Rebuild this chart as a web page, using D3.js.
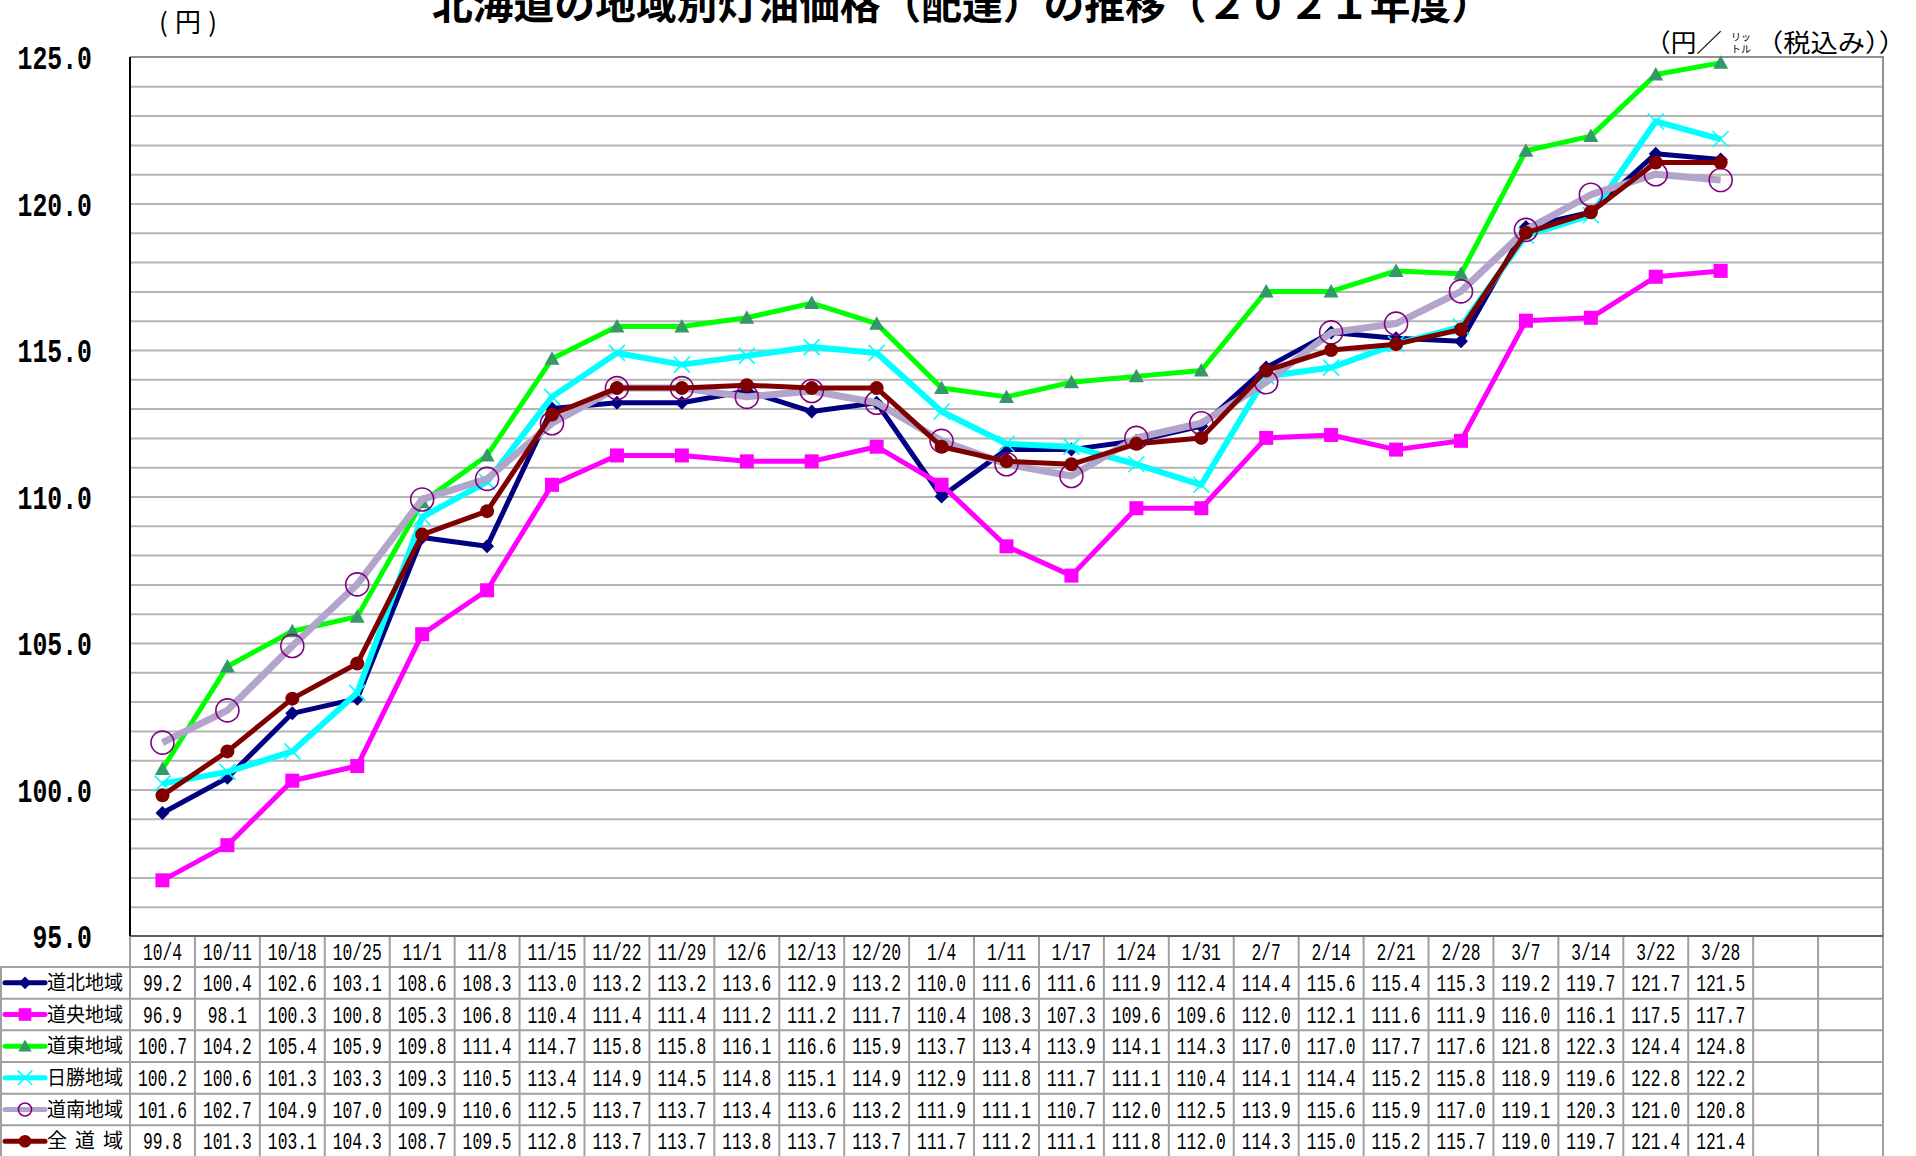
<!DOCTYPE html>
<html>
<head>
<meta charset="utf-8">
<script src="https://cdn.jsdelivr.net/npm/d3@7"></script>
<style>
  html, body { margin: 0; padding: 0; background: #fff; overflow: hidden; }
  svg { display: block; }
</style>
</head>
<body>
<div id="chart"></div>
<script>
// 週ごとの調査日
const dates = ["10/4", "10/11", "10/18", "10/25", "11/1", "11/8", "11/15", "11/22", "11/29",
  "12/6", "12/13", "12/20", "1/4", "1/11", "1/17", "1/24", "1/31", "2/7", "2/14", "2/21",
  "2/28", "3/7", "3/14", "3/22", "3/28"];
const blankCols = 2;   // 表の右端の空欄
const yLabels = [95, 100, 105, 110, 115, 120, 125];

const dohoku = [99.2, 100.4, 102.6, 103.1, 108.6, 108.3, 113.0, 113.2, 113.2, 113.6, 112.9, 113.2,
  110.0, 111.6, 111.6, 111.9, 112.4, 114.4, 115.6, 115.4, 115.3, 119.2, 119.7, 121.7, 121.5];
const doou = [96.9, 98.1, 100.3, 100.8, 105.3, 106.8, 110.4, 111.4, 111.4, 111.2, 111.2, 111.7,
  110.4, 108.3, 107.3, 109.6, 109.6, 112.0, 112.1, 111.6, 111.9, 116.0, 116.1, 117.5, 117.7];
const doto = [100.7, 104.2, 105.4, 105.9, 109.8, 111.4, 114.7, 115.8, 115.8, 116.1, 116.6, 115.9,
  113.7, 113.4, 113.9, 114.1, 114.3, 117.0, 117.0, 117.7, 117.6, 121.8, 122.3, 124.4, 124.8];
const nissho = [100.2, 100.6, 101.3, 103.3, 109.3, 110.5, 113.4, 114.9, 114.5, 114.8, 115.1, 114.9,
  112.9, 111.8, 111.7, 111.1, 110.4, 114.1, 114.4, 115.2, 115.8, 118.9, 119.6, 122.8, 122.2];
const donan = [101.6, 102.7, 104.9, 107.0, 109.9, 110.6, 112.5, 113.7, 113.7, 113.4, 113.6, 113.2,
  111.9, 111.1, 110.7, 112.0, 112.5, 113.9, 115.6, 115.9, 117.0, 119.1, 120.3, 121.0, 120.8];
const zendo = [99.8, 101.3, 103.1, 104.3, 108.7, 109.5, 112.8, 113.7, 113.7, 113.8, 113.7, 113.7,
  111.7, 111.2, 111.1, 111.8, 112.0, 114.3, 115.0, 115.2, 115.7, 119.0, 119.7, 121.4, 121.4];
const seriesNames = ["道北地域", "道央地域", "道東地域", "日勝地域", "道南地域", "全 道 域"];

// 系列の見た目
const styles = [
  { values: dohoku, line: "#000080", lw: 5, marker: "diamond", fill: "#000080" },
  { values: doou,   line: "#ff00ff", lw: 5, marker: "square",  fill: "#ff00ff" },
  { values: doto,   line: "#00ff00", lw: 5, marker: "triangle", fill: "#339966" },
  { values: nissho, line: "#00ffff", lw: 6, marker: "x",       fill: "#00ffff" },
  { values: donan,  line: "#b2a4cb", lw: 7, marker: "ring",    fill: "#800080" },
  { values: zendo,  line: "#800000", lw: 5, marker: "dot",     fill: "#800000" }
];

const W = 1916, H = 1156;
const plot = { left: 130, right: 1883, top: 57, bottom: 936 };
const headerH = 31, rowH = 31.67;
const gridColor = "#b4b4b4", tableColor = "#a0a0a0";

const svg = d3.select("#chart").append("svg")
  .attr("width", W)
  .attr("height", H);

const x = d3.scaleBand()
  .domain(d3.range(dates.length + blankCols))
  .range([plot.left, plot.right]);

const y = d3.scaleLinear()
  .domain([95, 125])
  .range([plot.bottom, plot.top]);

const cx = i => x(i) + x.bandwidth() / 2;

// 目盛線
svg.append("g")
  .attr("transform", `translate(${plot.left},0)`)
  .call(d3.axisLeft(y).tickValues(d3.range(96, 125)).tickSize(-(plot.right - plot.left)).tickFormat(""))
  .call(g => g.select(".domain").remove())
  .call(g => g.selectAll("line").attr("stroke", gridColor).attr("stroke-width", 2));

// 枠
svg.append("path")
  .attr("d", `M${plot.left},${plot.top}H${plot.right}V${plot.bottom}`)
  .attr("fill", "none").attr("stroke", "#909090").attr("stroke-width", 2);

// 縦軸ラベル
svg.append("g").selectAll("text")
  .data(yLabels)
  .join("text")
  .attr("transform", d => `translate(92,${y(d)}) scale(0.73,1)`)
  .attr("text-anchor", "end")
  .attr("dy", "0.36em")
  .attr("font-family", "'Liberation Mono', monospace")
  .attr("font-weight", "bold")
  .attr("font-size", 34)
  .text(d => d.toFixed(1));

// タイトル・単位
svg.append("text")
  .attr("x", 962).attr("y", 19)
  .attr("text-anchor", "middle")
  .attr("font-family", "'Noto Sans CJK JP'")
  .attr("font-weight", "bold")
  .attr("font-size", 40)
  .attr("textLength", 1060).attr("lengthAdjust", "spacingAndGlyphs")
  .text("北海道の地域別灯油価格（配達）の推移（２０２１年度）");

svg.append("text")
  .attr("x", 159).attr("y", 32)
  .attr("font-family", "'Noto Sans CJK JP'")
  .attr("font-size", 26)
  .attr("textLength", 58).attr("lengthAdjust", "spacing")
  .text("(円)");

const unit = svg.append("g")
  .attr("font-family", "'Noto Sans CJK JP'");
unit.append("text")
  .attr("x", 1645).attr("y", 52).attr("font-size", 25)
  .attr("textLength", 77).attr("lengthAdjust", "spacingAndGlyphs")
  .text("（円／");
unit.append("text")
  .attr("x", 1741).attr("y", 41).attr("font-size", 10).attr("text-anchor", "middle")
  .text("リッ");
unit.append("text")
  .attr("x", 1741).attr("y", 53).attr("font-size", 10).attr("text-anchor", "middle")
  .text("トル");
unit.append("text")
  .attr("x", 1756).attr("y", 52).attr("font-size", 25)
  .attr("textLength", 150).attr("lengthAdjust", "spacingAndGlyphs")
  .text("（税込み））");

// マーカー
function drawMarker(g, s, k) {
  if (s.marker === "diamond") {
    g.append("path").attr("d", `M0,${-7 * k}L${7 * k},0L0,${7 * k}L${-7 * k},0Z`).attr("fill", s.fill);
  } else if (s.marker === "square") {
    g.append("rect").attr("x", -7 * k).attr("y", -7 * k).attr("width", 14 * k).attr("height", 14 * k).attr("fill", s.fill);
  } else if (s.marker === "triangle") {
    g.append("path").attr("d", `M0,${-7.5 * k}L${7.5 * k},${6 * k}L${-7.5 * k},${6 * k}Z`).attr("fill", s.fill);
  } else if (s.marker === "x") {
    g.append("path").attr("d", `M${-8 * k},${-8 * k}L${8 * k},${8 * k}M${-8 * k},${8 * k}L${8 * k},${-8 * k}`)
      .attr("stroke", s.fill).attr("stroke-width", 1.6).attr("fill", "none");
  } else if (s.marker === "ring") {
    g.append("circle").attr("r", 11.5 * k).attr("fill", "none").attr("stroke", s.fill).attr("stroke-width", 1.6);
  } else if (s.marker === "dot") {
    g.append("circle").attr("r", 7 * k).attr("fill", s.fill);
  }
}

const line = d3.line()
  .x((d, i) => cx(i))
  .y(d => y(d));

styles.forEach(s => {
  const g = svg.append("g");
  g.append("path")
    .attr("d", line(s.values))
    .attr("fill", "none")
    .attr("stroke", s.line)
    .attr("stroke-width", s.lw)
    .attr("stroke-linejoin", "round");
  s.values.forEach((v, i) => {
    const m = g.append("g").attr("transform", `translate(${cx(i)},${y(v)})`);
    drawMarker(m, s, 1);
  });
});

// 表
const table = svg.append("g");
const tableTop = plot.bottom;
const rowTop = i => tableTop + headerH + rowH * i;

// 縦線
d3.range(dates.length + blankCols + 1).forEach(i => {
  const xx = i < dates.length + blankCols ? x(i) : plot.right;
  table.append("line")
    .attr("x1", xx).attr("x2", xx)
    .attr("y1", tableTop).attr("y2", H)
    .attr("stroke", tableColor).attr("stroke-width", 2);
});
table.append("line")
  .attr("x1", 1).attr("x2", 1).attr("y1", rowTop(0)).attr("y2", H)
  .attr("stroke", tableColor).attr("stroke-width", 2);
// 横線
d3.range(seriesNames.length + 1).forEach(r => {
  table.append("line")
    .attr("x1", 0).attr("x2", plot.right)
    .attr("y1", rowTop(r)).attr("y2", rowTop(r))
    .attr("stroke", tableColor).attr("stroke-width", 2);
});

// 軸線
svg.append("line")
  .attr("x1", plot.left).attr("x2", plot.right)
  .attr("y1", plot.bottom).attr("y2", plot.bottom)
  .attr("stroke", "#606060").attr("stroke-width", 2);
svg.append("line")
  .attr("x1", plot.left).attr("x2", plot.left)
  .attr("y1", plot.top).attr("y2", plot.bottom)
  .attr("stroke", "#000").attr("stroke-width", 2);

const numText = (g, xx, yy, str) => g.append("text")
  .attr("transform", `translate(${xx},${yy}) scale(0.71,1)`)
  .attr("text-anchor", "middle")
  .attr("dy", "0.36em")
  .attr("font-family", "'Liberation Mono', monospace")
  .attr("font-size", 23)
  .text(str);

dates.forEach((d, i) => numText(table, cx(i), tableTop + headerH / 2, d));

styles.forEach((s, r) => {
  const cy = rowTop(r) + rowH / 2;
  s.values.forEach((v, i) => numText(table, cx(i), cy, v.toFixed(1)));
  // 凡例
  const lg = table.append("g");
  lg.append("line")
    .attr("x1", 5).attr("x2", 45).attr("y1", cy).attr("y2", cy)
    .attr("stroke", s.line).attr("stroke-width", 5).attr("stroke-linecap", "round");
  const m = lg.append("g").attr("transform", `translate(25,${cy})`);
  drawMarker(m, s, s.marker === "ring" ? 0.57 : 0.9);
  lg.append("text")
    .attr("x", 47).attr("y", cy).attr("dy", "0.36em")
    .attr("font-family", "'Noto Sans CJK JP'")
    .attr("font-size", 20)
    .attr("textLength", 76).attr("lengthAdjust", seriesNames[r].includes(" ") ? "spacing" : "spacingAndGlyphs")
    .text(seriesNames[r]);
});
</script>
</body>
</html>
